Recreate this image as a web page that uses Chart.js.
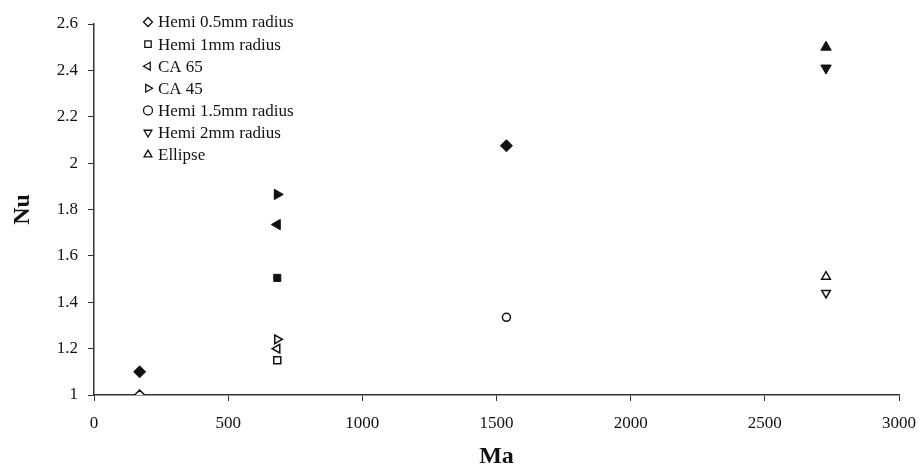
<!DOCTYPE html>
<html>
<head>
<meta charset="utf-8">
<script src="https://cdn.jsdelivr.net/npm/chart.js@4/dist/chart.umd.min.js"></script>
<style>
  html, body { margin: 0; padding: 0; background: #fff; }
  #wrap { width: 920px; height: 476px; }
</style>
</head>
<body>
<div id="wrap"><canvas id="chart" width="920" height="476"></canvas></div>
<script>
// Series (Ma on x, Nu on y)
const seriesNames = ['Hemi 0.5mm radius', 'Hemi 1mm radius', 'CA 65', 'CA 45',
                     'Hemi 1.5mm radius', 'Hemi 2mm radius', 'Ellipse'];
const maValues = [170, 683, 683, 683, 1537, 2728, 2728];
const nuOpen   = [1.00, 1.15, 1.20, 1.24, 1.335, 1.44, 1.51];   // hollow markers (in legend)
const nuFilled = [1.10, 1.505, 1.735, 1.865, 2.075, 2.41, 2.50]; // solid markers

// Axis ticks
const xTicks = [0, 500, 1000, 1500, 2000, 2500, 3000];
const yTicks = [1, 1.2, 1.4, 1.6, 1.8, 2, 2.2, 2.4, 2.6];

// marker shape for each series
const shapes = [
  { style: 'rectRot', rot: 0 },
  { style: 'rect', rot: 0 },
  { style: 'triangle', rot: -90 },
  { style: 'triangle', rot: 90 },
  { style: 'circle', rot: 0 },
  { style: 'triangle', rot: 180 },
  { style: 'triangle', rot: 0 }
];

const FONT = "'Liberation Serif', 'Times New Roman', serif";
const INK = '#111';

const datasets = [];
seriesNames.forEach((name, i) => {
  datasets.push({
    label: name,
    data: [{ x: maValues[i], y: nuOpen[i] }],
    pointStyle: shapes[i].style,
    pointRotation: shapes[i].rot,
    pointRadius: shapes[i].style === 'circle' ? 4 : 5,
    pointBackgroundColor: '#fff',
    pointBorderColor: INK,
    pointBorderWidth: 1.5,
    showLine: false
  });
});
seriesNames.forEach((name, i) => {
  datasets.push({
    label: name + ' (filled)',
    hideInLegend: true,
    data: [{ x: maValues[i], y: nuFilled[i] }],
    pointStyle: shapes[i].style === 'circle' ? 'rectRot' : shapes[i].style,
    pointRotation: shapes[i].rot,
    pointRadius: shapes[i].style === 'rect' ? 5 : 6,
    pointBackgroundColor: INK,
    pointBorderColor: INK,
    pointBorderWidth: 1,
    showLine: false
  });
});

// Legend drawn inside the plot, top-left, like the original
const insideLegend = {
  id: 'insideLegend',
  afterDraw(chart) {
    const ctx = chart.ctx;
    ctx.save();
    ctx.font = '17px ' + FONT;
    ctx.textBaseline = 'middle';
    let y = 22;
    chart.data.datasets.forEach(ds => {
      if (ds.hideInLegend) return;
      ctx.strokeStyle = INK;
      ctx.fillStyle = '#fff';
      ctx.lineWidth = 1.3;
      Chart.helpers.drawPoint(ctx, {
        pointStyle: ds.pointStyle,
        rotation: ds.pointRotation,
        radius: 4.5,
        borderWidth: 1.3
      }, 148, y);
      ctx.fillStyle = INK;
      ctx.fillText(ds.label, 158, y + 1);
      y += 22.1;
    });
    ctx.restore();
  }
};

new Chart(document.getElementById('chart'), {
  type: 'scatter',
  data: { datasets },
  plugins: [insideLegend],
  options: {
    responsive: false,
    devicePixelRatio: 1,
    animation: false,
    layout: { padding: { top: 24, right: 21, left: 0, bottom: 0 } },
    plugins: { legend: { display: false }, tooltip: { enabled: false } },
    scales: {
      x: {
        type: 'linear',
        min: 0, max: 3000,
        afterBuildTicks: axis => { axis.ticks = xTicks.map(v => ({ value: v })); },
        afterFit: axis => { axis.height = 81; axis.paddingRight = 0; axis.paddingLeft = 0; },
        grid: { drawOnChartArea: false, drawTicks: true, tickLength: 6, color: '#333' },
        border: { color: '#333', width: 1.5 },
        ticks: { color: INK, font: { family: FONT, size: 17 }, padding: 12,
                 maxRotation: 0, callback: v => String(v) },
        title: { display: true, text: 'Ma', color: INK,
                 font: { family: FONT, size: 24, weight: 'bold' }, padding: { top: 0, bottom: 5 } }
      },
      y: {
        type: 'linear',
        min: 1, max: 2.6,
        afterBuildTicks: axis => { axis.ticks = yTicks.map(v => ({ value: v })); },
        afterFit: axis => { axis.width = 94; },
        grid: { drawOnChartArea: false, drawTicks: true, tickLength: 6, color: '#333' },
        border: { color: '#333', width: 1.5 },
        ticks: { color: INK, font: { family: FONT, size: 17 }, padding: 10,
                 callback: v => String(v) },
        title: { display: true, text: 'Nu', color: INK,
                 font: { family: FONT, size: 24, weight: 'bold' }, padding: { top: 8, bottom: 0 } }
      }
    }
  }
});
</script>
</body>
</html>
